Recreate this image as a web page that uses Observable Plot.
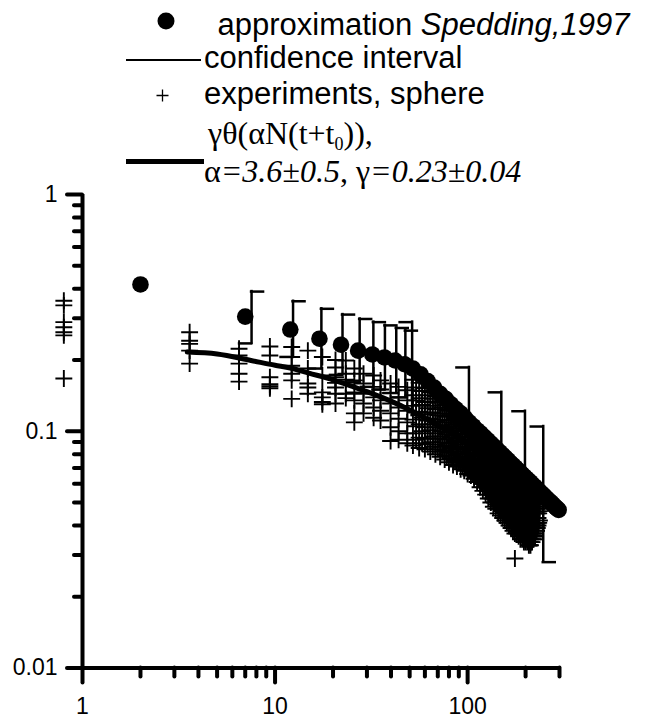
<!DOCTYPE html>
<html><head><meta charset="utf-8">
<script src="https://cdn.jsdelivr.net/npm/d3@7"></script>
<script src="https://cdn.jsdelivr.net/npm/@observablehq/plot@0.6"></script>
<style>
body{margin:0;background:#fff;}
#wrap{position:relative;width:645px;height:719px;overflow:hidden;}
#legend{position:absolute;left:0;top:0;}
</style></head><body><div id="wrap"></div>
<script>
// ---- approximation (Spedding, 1997) ----
const spedT = [2,7,12,17,22,27,32,37,42,47,52,57,62,67,72,77,82,87,92,97,102,107,112,117,122,127,132,137,142,147,152,157,162,167,172,177,182,187,192,197,202,207,212,217,222,227,232,237,242,247,252,257,262,267,272,277,282,287,292,297];
const spedY = [0.417,0.305,0.269,0.246,0.232,0.219,0.211,0.205,0.199,0.192,0.184,0.174,0.163,0.153,0.144,0.137,0.130,0.124,0.119,0.114,0.109,0.105,0.101,0.098,0.0947,0.0917,0.0889,0.0863,0.0838,0.0816,0.0794,0.0774,0.0755,0.0736,0.0719,0.0703,0.0687,0.0673,0.0658,0.0645,0.0632,0.0620,0.0609,0.0597,0.0586,0.0576,0.0566,0.0556,0.0547,0.0538,0.0530,0.0521,0.0513,0.0506,0.0499,0.0491,0.0484,0.0477,0.0471,0.0465];

// ---- confidence interval ----
const ciT    = [7.55,12.4,17.4,22.4,27.5,32.4,37.2,42.6,47.5,51.5,101.6,149.6,198.5,247];
const ciLow  = [0.235,0.206,0.184,0.173,0.161,0.154,0.150,0.145,0.139,0.117,0.064,0.044,0.033,0.028];
const ciHigh = [0.389,0.354,0.329,0.311,0.298,0.289,0.280,0.273,0.266,0.289,0.186,0.146,0.1215,0.1047];

// ---- experiments, sphere (run A) ----
const expTimes = [0.8,3.6,6.5,9.4,12.2,14.8,17.6,20.6,23.3,25.8,28.8,32.5,35.3,39.8,43.8,48.6,
  52,56,60,64,68,72,76,80,84,88,92,96,100,104,108,112,116,120,124,128,132,136,140,144,148,152,156,160,164,168,172,176,180,184,188,192,196,200,204,208,212,216,220,224,228,232,236];
const expValues = [
  [0.356,0.340,0.289,0.275,0.262,0.254,0.167],
  [0.262,0.241,0.234,0.219,0.193],
  [0.223,0.209,0.193,0.175,0.162],
  [0.228,0.209,0.169,0.158,0.155,0.152],
  [0.227,0.206,0.189,0.175,0.164,0.137],
  [0.219,0.184,0.159,0.153,0.144],
  [0.206,0.172,0.146,0.139,0.133,0.130],
  [0.200,0.186,0.169,0.160,0.153,0.144,0.131],
  [0.199,0.175,0.165,0.144,0.138],
  [0.184,0.164,0.146,0.135,0.119,0.109],
  [0.175,0.159,0.144,0.131,0.119],
  [0.172,0.154,0.139,0.126,0.114],
  [0.164,0.150,0.135,0.122,0.111],
  [0.159,0.145,0.131,0.119,0.104,0.091],
  [0.154,0.139,0.126,0.113,0.100,0.092],
  [0.149,0.135,0.122,0.109,0.098,0.089],
  [0.165,0.142,0.128,0.112,0.098,0.087],
  [0.160,0.138,0.121,0.107,0.094,0.085],
  [0.152,0.133,0.118,0.104,0.093,0.084],
  [0.146,0.128,0.113,0.101,0.090,0.082],
  [0.140,0.124,0.110,0.098,0.088,0.080],
  [0.134,0.119,0.106,0.095,0.086,0.078],
  [0.129,0.115,0.103,0.092,0.083,0.076],
  [0.124,0.111,0.099,0.089,0.081,0.074],
  [0.119,0.107,0.096,0.086,0.079,0.072],
  [0.115,0.103,0.093,0.084,0.077,0.071],
  [0.111,0.100,0.090,0.082,0.075,0.069],
  [0.107,0.097,0.088,0.080,0.073,0.068],
  [0.104,0.094,0.085,0.077,0.071,0.066],
  [0.100,0.091,0.083,0.075,0.069,0.065],
  [0.097,0.088,0.080,0.073,0.067,0.063],
  [0.094,0.085,0.078,0.071,0.065,0.061],
  [0.091,0.083,0.075,0.068,0.062,0.058],
  [0.088,0.080,0.073,0.066,0.060,0.056],
  [0.086,0.078,0.071,0.064,0.058,0.054],
  [0.083,0.076,0.069,0.062,0.056,0.052],
  [0.081,0.074,0.067,0.060,0.054,0.050],
  [0.079,0.072,0.065,0.058,0.052,0.048],
  [0.077,0.070,0.063,0.057,0.051,0.047],
  [0.075,0.068,0.062,0.055,0.049,0.045],
  [0.073,0.066,0.060,0.054,0.048,0.044],
  [0.072,0.065,0.058,0.052,0.047,0.043],
  [0.070,0.063,0.057,0.051,0.046,0.042],
  [0.069,0.062,0.056,0.050,0.045,0.041],
  [0.067,0.061,0.055,0.049,0.044,0.040],
  [0.066,0.059,0.053,0.048,0.043,0.039],
  [0.065,0.058,0.052,0.047,0.042,0.038],
  [0.064,0.057,0.051,0.046,0.041,0.037,0.029],
  [0.063,0.056,0.050,0.045,0.040,0.037],
  [0.062,0.055,0.049,0.044,0.039,0.036],
  [0.061,0.054,0.048,0.043,0.039,0.035],
  [0.060,0.053,0.047,0.042,0.038,0.035],
  [0.059,0.052,0.046,0.041,0.037,0.034],
  [0.058,0.051,0.046,0.041,0.037,0.034],
  [0.057,0.051,0.045,0.040,0.036,0.034],
  [0.056,0.050,0.045,0.040,0.036,0.033],
  [0.055,0.049,0.044,0.039,0.035,0.033],
  [0.054,0.049,0.044,0.039,0.036,0.034],
  [0.054,0.048,0.043,0.039,0.036,0.035],
  [0.053,0.048,0.043,0.040,0.037,0.036],
  [0.052,0.047,0.043,0.040,0.038],
  [0.051,0.047,0.043,0.040],
  [0.050,0.046,0.042]
];

// ---- experiments, sphere (run B, interleaved times) ----
const expTimes2 = [54,58,62,66,70,74,78,82,86,90,94,98,102,106,110,114,118,122,126,130,134,138,142,146,150,154,158,162,166,170,174,178,182,186,190,194,198,202,206,210,214,218,222,226,230,234];
const expValues2 = [
  [0.153,0.135,0.120,0.105,0.092],
  [0.148,0.129,0.114,0.100,0.089],
  [0.142,0.125,0.111,0.098,0.088],
  [0.137,0.120,0.107,0.095,0.086],
  [0.132,0.117,0.104,0.093,0.084],
  [0.126,0.112,0.100,0.090,0.082],
  [0.122,0.109,0.097,0.087,0.079],
  [0.117,0.105,0.094,0.085,0.077],
  [0.113,0.101,0.091,0.082,0.075],
  [0.109,0.098,0.088,0.080,0.074],
  [0.105,0.095,0.086,0.078,0.072],
  [0.102,0.092,0.084,0.076,0.070],
  [0.099,0.089,0.081,0.074,0.068],
  [0.095,0.087,0.079,0.072,0.067],
  [0.092,0.084,0.076,0.070,0.065],
  [0.089,0.081,0.074,0.068,0.063],
  [0.087,0.079,0.071,0.065,0.060],
  [0.084,0.076,0.069,0.063,0.058],
  [0.082,0.074,0.067,0.061,0.056],
  [0.079,0.072,0.065,0.059,0.054],
  [0.077,0.070,0.063,0.057,0.052],
  [0.075,0.068,0.061,0.055,0.050],
  [0.073,0.066,0.060,0.054,0.049],
  [0.071,0.065,0.058,0.052,0.047],
  [0.069,0.063,0.057,0.051,0.046],
  [0.068,0.061,0.055,0.049,0.045],
  [0.066,0.060,0.054,0.048,0.044],
  [0.065,0.059,0.053,0.047,0.043],
  [0.064,0.058,0.052,0.046,0.042],
  [0.062,0.056,0.050,0.045,0.041],
  [0.061,0.055,0.049,0.044,0.040],
  [0.060,0.054,0.048,0.043,0.039],
  [0.059,0.053,0.047,0.042,0.038],
  [0.058,0.052,0.046,0.041,0.037],
  [0.057,0.051,0.045,0.041,0.037],
  [0.056,0.050,0.044,0.040,0.036],
  [0.055,0.049,0.043,0.039,0.035],
  [0.054,0.048,0.043,0.039,0.035],
  [0.054,0.048,0.042,0.038,0.035],
  [0.053,0.047,0.042,0.038,0.034],
  [0.052,0.046,0.041,0.037,0.034],
  [0.051,0.046,0.041,0.037,0.035],
  [0.051,0.045,0.041,0.037,0.036],
  [0.050,0.045,0.041,0.038],
  [0.049,0.045,0.041,0.039],
  [0.049,0.045,0.041]
];

// ---- fit gamma*theta(alpha N (t+t0)) ----
const fitT = [3.5,5,7.5,10,12,15,20,25,30,40,50,70,100,150,200,235];
const fitY = [0.216,0.212,0.199,0.190,0.185,0.176,0.165,0.155,0.147,0.134,0.123,0.106,0.089,0.070,0.057,0.050];

// ---- axes ----
const xMajor = [1,10,100];
const xTickLabels = ["1","10","100"];
const xMinor = [2,3,4,5,6,7,8,9,20,30,40,50,60,70,80,90,200,300];
const yMajor = [0.01,0.1,1];
const yTickLabels = ["0.01","0.1","1"];
const yMinor = [0.02,0.03,0.04,0.05,0.06,0.07,0.08,0.09,0.2,0.3,0.4,0.5,0.6,0.7,0.8,0.9];
const xMin = 1, xMax = 300, yMin = 0.01, yMax = 1;

// ---- layout ----
const W = 645, H = 719, mL = 82, mR = 86, mT = 194, mB = 51.5;
const pxDecX = (W - mL - mR) / Math.log10(xMax / xMin);
const pxDecY = (H - mT - mB) / Math.log10(yMax / yMin);
const leftOf = L => xMin / Math.pow(10, L / pxDecX);   // data x lying L px left of the y axis
const below = L => yMin / Math.pow(10, L / pxDecY);    // data y lying L px under the x axis

// ---- tables ----
const expData = expTimes.flatMap((t, i) => expValues[i].map(v => ({t, v})))
  .concat(expTimes2.flatMap((t, i) => expValues2[i].map(v => ({t, v}))));
const sped = spedT.map((t, i) => ({t, v: spedY[i]}));
const ci = ciT.map((t, i) => ({t, lo: ciLow[i], hi: ciHigh[i], right: t < 50}));
const fit = fitT.map((t, i) => ({t, v: fitY[i]}));
const capF = Math.pow(10, 12 / pxDecX);

const tk = {stroke: "black", strokeWidth: 4, strokeLinecap: "round"};
const sans = "'Liberation Sans', Arial, sans-serif";
const chart = Plot.plot({
  width: W, height: H,
  marginLeft: mL, marginRight: mR, marginTop: mT, marginBottom: mB,
  style: {fontFamily: sans, background: "white", overflow: "visible", color: "black"},
  x: {type: "log", domain: [xMin, xMax], label: null, axis: null},
  y: {type: "log", domain: [yMin, yMax], label: null, axis: null},
  marks: [
    Plot.ruleY(yMinor, {y: d => d, x1: () => xMin, x2: () => leftOf(8), ...tk}),
    Plot.ruleY(yMajor, {y: d => d, x1: () => xMin, x2: () => leftOf(15), ...tk}),
    Plot.ruleX(xMinor, {x: d => d, y1: () => yMin, y2: () => below(9), ...tk}),
    Plot.ruleX(xMajor, {x: d => d, y1: () => yMin, y2: () => below(15), ...tk}),
    Plot.text(yMajor, {x: () => xMin, y: d => d, text: d => yTickLabels[yMajor.indexOf(d)], textAnchor: "end", dx: -25, fontSize: 23, fill: "black"}),
    Plot.text(xMajor, {x: d => d, y: () => yMin, text: d => xTickLabels[xMajor.indexOf(d)], lineAnchor: "top", dy: 30, fontSize: 23, fill: "black"}),
    Plot.ruleX([xMin], {y1: yMin, y2: yMax, stroke: "black", strokeWidth: 4}),
    Plot.ruleY([yMin], {x1: xMin, x2: xMax, stroke: "black", strokeWidth: 4}),
    Plot.dot(expData, {x: "t", y: "v", symbol: "plus", r: 5.5, stroke: "black", strokeWidth: 1.9}),
    Plot.line(fit, {x: "t", y: "v", stroke: "black", strokeWidth: 5, curve: "monotone-x"}),
    Plot.ruleX(ci, {x: "t", y1: "lo", y2: "hi", stroke: "black", strokeWidth: 2.5, strokeLinecap: "square"}),
    Plot.ruleY(ci, {y: "hi", x1: "t", x2: d => d.right ? d.t * capF : d.t / capF, stroke: "black", strokeWidth: 2.5, strokeLinecap: "square"}),
    Plot.ruleY(ci, {y: "lo", x1: "t", x2: d => d.right ? d.t / capF : d.t * capF, stroke: "black", strokeWidth: 2.5, strokeLinecap: "square"}),
    Plot.dot(sped, {x: "t", y: "v", r: 8.3, fill: "black"})
  ]
});
const wrap = document.getElementById("wrap");
wrap.appendChild(chart);

// ---- legend (above the plot frame) ----
const leg = d3.select(wrap).append("svg").attr("id", "legend")
  .attr("width", W).attr("height", 190)
  .style("font-family", sans);
leg.append("circle").attr("cx", 166).attr("cy", 21).attr("r", 8.5).attr("fill", "black");
leg.append("line").attr("x1", 126).attr("x2", 201).attr("y1", 60).attr("y2", 60).attr("stroke", "black").attr("stroke-width", 2);
leg.append("path").attr("d", "M156.5,95.5h12M162.5,89.5v12").attr("stroke", "black").attr("stroke-width", 1.3);
leg.append("line").attr("x1", 126).attr("x2", 204).attr("y1", 161.5).attr("y2", 161.5).attr("stroke", "black").attr("stroke-width", 5);

const t1 = leg.append("text").attr("x", 217.5).attr("y", 35).attr("font-size", 31);
t1.append("tspan").text("approximation ");
t1.append("tspan").attr("font-style", "italic").text("Spedding,1997");
leg.append("text").attr("x", 204).attr("y", 68).attr("font-size", 31).text("confidence interval");
leg.append("text").attr("x", 204).attr("y", 104).attr("font-size", 31).text("experiments, sphere");
const serif = "'Liberation Serif', 'Times New Roman', serif";
const t4 = leg.append("text").attr("x", 208).attr("y", 144).attr("font-size", 32).style("font-family", serif);
t4.append("tspan").text("γθ(αN(t+t");
t4.append("tspan").attr("dy", 6).attr("font-size", 18).text("0");
t4.append("tspan").attr("dy", -6).text(")),");
const t5 = leg.append("text").attr("x", 204).attr("y", 182).attr("font-size", 32).style("font-family", serif);
t5.append("tspan").text("α");
t5.append("tspan").attr("font-style", "italic").text("=3.6±0.5");
t5.append("tspan").text(", γ");
t5.append("tspan").attr("font-style", "italic").text("=0.23±0.04");
</script></body></html>
